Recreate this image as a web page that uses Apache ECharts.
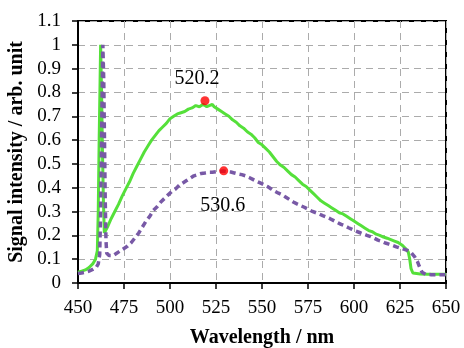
<!DOCTYPE html>
<html><head><meta charset="utf-8">
<script src="https://cdn.jsdelivr.net/npm/echarts@6/dist/echarts.min.js"></script>
<style>html,body{margin:0;padding:0;background:#fff}#c{width:464px;height:348px}</style>
</head><body><div id="c"></div>
<script>
var xTitle = 'Wavelength / nm';
var yTitle = 'Signal intensity / arb. unit';
var xTicks = [450, 475, 500, 525, 550, 575, 600, 625, 650];
var yTicks = [0, 0.1, 0.2, 0.3, 0.4, 0.5, 0.6, 0.7, 0.8, 0.9, 1, 1.1];

var greenX = [450,452,454,456,458,459.5,460.5,461,461.5,462,462.3,462.8,463.3,463.8,464.3,465,466,468,470,472,474,476,478,480,482,484,486,488,490,492,494,496,498,500,502,504,506,508,510,512,514,516,518,520,521,523,524,526,528,530,532,534,536,538,540,542,544,546,548,550,552,554,556,558,560,562,564,566,568,570,572,574,576,578,580,582,584,586,588,590,592,594,596,598,600,602,604,606,608,610,612,614,616,618,620,622,624,626,628,629.5,630.3,631,632,636,640,645,650];
var greenY = [0.045,0.05,0.055,0.065,0.08,0.1,0.135,0.3,0.6,0.85,1.0,0.8,0.55,0.35,0.21,0.205,0.235,0.27,0.3,0.33,0.365,0.395,0.425,0.46,0.49,0.52,0.55,0.575,0.6,0.62,0.64,0.655,0.67,0.69,0.70,0.71,0.715,0.72,0.73,0.735,0.745,0.74,0.75,0.74,0.745,0.75,0.74,0.73,0.72,0.71,0.70,0.685,0.675,0.66,0.65,0.635,0.625,0.61,0.59,0.58,0.565,0.55,0.53,0.51,0.495,0.485,0.47,0.455,0.445,0.43,0.415,0.405,0.39,0.375,0.36,0.345,0.335,0.325,0.315,0.305,0.295,0.29,0.28,0.27,0.26,0.25,0.24,0.23,0.22,0.215,0.205,0.2,0.193,0.188,0.182,0.176,0.17,0.16,0.145,0.13,0.1,0.06,0.042,0.038,0.037,0.037,0.037];

var purpleX = [450,452,454,456,458,460,461,461.8,462.3,462.8,463.2,463.5,464,464.4,464.8,465.2,465.6,467,469,471,473,475,477,479,481,483,485,487,489,491,493,495,497,499,501,503,505,507,509,511,513,515,517,519,521,523,525,527,529,531,533,535,537,539,541,543,545,547,549,551,553,555,557,559,561,563,565,567,569,571,573,575,577,579,581,583,585,587,589,591,593,595,597,599,601,603,605,607,609,611,613,615,617,619,621,623,625,627,629,631,633,634.5,635.5,637,639,642,646,650];
var purpleY = [0.04,0.042,0.045,0.05,0.057,0.067,0.08,0.12,0.3,0.6,0.85,1.0,0.85,0.6,0.35,0.18,0.125,0.115,0.115,0.125,0.135,0.145,0.155,0.17,0.19,0.21,0.235,0.26,0.28,0.305,0.32,0.34,0.355,0.37,0.385,0.395,0.41,0.42,0.43,0.44,0.45,0.455,0.46,0.462,0.465,0.465,0.467,0.468,0.47,0.468,0.466,0.462,0.458,0.455,0.45,0.443,0.435,0.427,0.42,0.413,0.405,0.395,0.385,0.377,0.37,0.36,0.35,0.34,0.332,0.325,0.318,0.31,0.302,0.296,0.29,0.283,0.277,0.27,0.262,0.254,0.246,0.24,0.232,0.225,0.218,0.212,0.206,0.2,0.195,0.188,0.18,0.175,0.168,0.163,0.158,0.152,0.147,0.142,0.137,0.128,0.11,0.09,0.07,0.045,0.036,0.035,0.035,0.035];

var peakX = [519, 529.2];
var peakY = [0.765, 0.471];
var peakLabels = ['520.2', '530.6'];

function pairs(xs, ys){ return xs.map(function(x,i){ return [x, ys[i]]; }); }

var serif = '"Liberation Serif", "DejaVu Serif", serif';
var labelStyle = {show: true, fontFamily: serif, fontSize: 20, color: '#000', opacity: 1,
  textBorderWidth: 0, textShadowBlur: 0};
var chart = echarts.init(document.getElementById('c'), null, {renderer:'canvas'});
chart.setOption({
  animation: false,
  backgroundColor: '#fff',
  grid: {left: 78, right: 18, top: 21, bottom: 65, containLabel: false, outerBoundsMode: 'none',
    show: true, borderColor: '#000', borderWidth: 2, backgroundColor: 'transparent'},
  xAxis: {
    type: 'value', min: xTicks[0], max: xTicks[xTicks.length-1], interval: 25,
    name: xTitle, nameLocation: 'middle', nameGap: 45,
    nameTextStyle: {fontFamily: serif, fontWeight: 'bold', fontSize: 20, color: '#000'},
    axisLine: {show: true, onZero: false, lineStyle: {color: '#000', width: 2}},
    axisTick: {show: true, inside: false, length: 6, lineStyle: {color: '#000', width: 1.5}},
    axisLabel: {margin: 16, fontFamily: serif, fontSize: 19, color: '#000'},
    splitLine: {show: true, lineStyle: {color: '#ABABAB', type: [7, 5], width: 1}}
  },
  yAxis: {
    type: 'value', min: 0, max: 1.1, interval: 0.1,
    name: yTitle, nameLocation: 'middle', nameGap: 46,
    nameTextStyle: {fontFamily: serif, fontWeight: 'bold', fontSize: 20, color: '#000'},
    axisLine: {show: true, lineStyle: {color: '#000', width: 2}},
    axisTick: {show: true, inside: false, length: 6, lineStyle: {color: '#000', width: 1.5}},
    axisLabel: {margin: 17, fontFamily: serif, fontSize: 19, color: '#000',
      formatter: function(v){ return String(Math.round(v*10)/10); }},
    splitLine: {show: true, lineStyle: {color: '#ABABAB', type: [7, 5], width: 1}}
  },
  series: [
    {type: 'line', data: pairs(greenX, greenY), showSymbol: false, symbol: 'none',
      lineStyle: {color: '#55E03A', width: 3}, z: 2},
    {type: 'line', data: pairs(purpleX, purpleY), showSymbol: false, symbol: 'none',
      lineStyle: {color: '#7859A6', width: 3.5, type: [6, 4]}, z: 3},
    {type: 'scatter', symbolSize: 9, itemStyle: {color: '#FF0000'}, z: 5,
      emphasis: {disabled: true},
      data: [
        {value: [peakX[0], peakY[0]], label: Object.assign({}, labelStyle, {formatter: peakLabels[0], position: 'top', offset: [-8, -3]})},
        {value: [peakX[1], peakY[1]], label: Object.assign({}, labelStyle, {formatter: peakLabels[1], position: 'bottom', offset: [-1, 15]})}
      ]
    }
  ]
});
</script></body></html>
